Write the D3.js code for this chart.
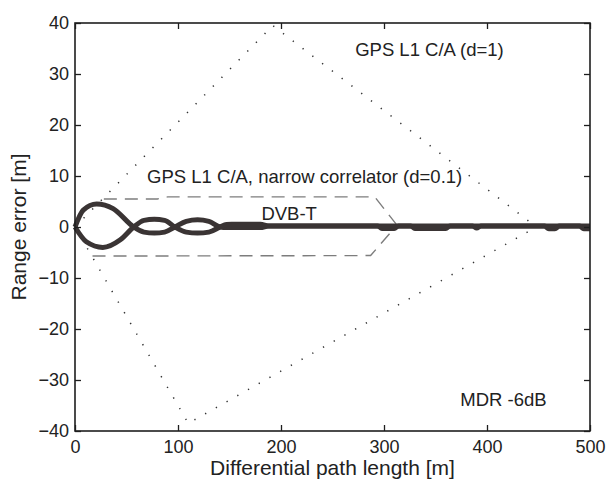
<!DOCTYPE html>
<html>
<head>
<meta charset="utf-8">
<script src="https://cdn.jsdelivr.net/npm/d3@7"></script>
<style>
  body { margin: 0; background: #fff; }
  svg { display: block; font-family: "Liberation Sans", Arial, sans-serif; }
</style>
</head>
<body>
<div id="chart"></div>
<script>
// axis ticks
const X_TICKS = [0, 100, 200, 300, 400, 500];
const Y_TICKS = [-40, -30, -20, -10, 0, 10, 20, 30, 40];

// GPS L1 C/A (d=1) envelope, dotted
const gpsUpperX = [0, 192, 448];
const gpsUpperY = [0, 39.5, 0];
const gpsLowerX = [0, 110, 448];
const gpsLowerY = [0, -38.5, 0];

// GPS L1 C/A narrow correlator (d=0.1), dashed
const ncUpperX = [28, 80, 90, 291, 314];
const ncUpperY = [5.5, 5.5, 5.9, 5.9, 0];
const ncLowerX = [17, 287, 311];
const ncLowerY = [-5.7, -5.6, 0];

// DVB-T envelope, thick solid
const dvbUpperX = [0, 8, 21, 37, 57, 67, 77, 87, 97, 108, 119, 130, 141, 147, 152, 180, 188, 500];
const dvbUpperY = [0, 3.3, 4.5, 3.6, 0, -1.0, -1.2, -1.0, 0, 1.1, 1.4, 1.1, 0, -0.1, -0.1, -0.1, 0.2, 0.2];
const dvbLowerX = [0, 11, 27, 44, 57, 67, 77, 87, 97, 108, 119, 130, 141, 147, 152, 180, 188,
                   294, 298, 310, 314, 326, 330, 360, 364, 386, 390, 394, 456, 460, 466, 470, 490, 494, 500];
const dvbLowerY = [0, -2.9, -4.0, -2.5, 0, 1.3, 1.5, 1.3, 0, -1.0, -1.2, -1.0, 0, 0.5, 0.55, 0.55, 0.2,
                   0.2, -0.3, -0.3, 0.2, 0.2, -0.3, -0.3, 0.2, 0.2, -0.2, 0.2, 0.2, -0.35, -0.35, 0.2, 0.2, -0.35, -0.35];

// annotations
const labels = [
  { text: "GPS L1 C/A (d=1)", x: 272, y: 33.5 },
  { text: "GPS L1 C/A, narrow correlator (d=0.1)", x: 70, y: 8.6 },
  { text: "DVB-T", x: 181, y: 1.4 },
  { text: "MDR -6dB", x: 374, y: -35 }
];

const MARGIN = { top: 23, right: 18, bottom: 49, left: 75 };
const WIDTH = 608 - MARGIN.left - MARGIN.right;
const HEIGHT = 480 - MARGIN.top - MARGIN.bottom;

const svg = d3.select("#chart")
  .append("svg")
  .attr("width", 608)
  .attr("height", 480)
  .append("g")
  .attr("transform", `translate(${MARGIN.left},${MARGIN.top})`);

const xScale = d3.scaleLinear().domain([0, 500]).range([0, WIDTH]);
const yScale = d3.scaleLinear().domain([-40, 40]).range([HEIGHT, 0]);

const zip = (xs, ys) => xs.map((x, i) => [x, ys[i]]);

const line = d3.line()
  .x(d => xScale(d[0]))
  .y(d => yScale(d[1]));

const smoothLine = d3.line()
  .curve(d3.curveMonotoneX)
  .x(d => xScale(d[0]))
  .y(d => yScale(d[1]));

// dotted d=1
[zip(gpsUpperX, gpsUpperY), zip(gpsLowerX, gpsLowerY)].forEach(pts => {
  svg.append("path")
    .attr("d", line(pts))
    .attr("fill", "none")
    .attr("stroke", "#333")
    .attr("stroke-width", 1.5)
    .attr("stroke-dasharray", "1.3,11");
});

// dashed d=0.1
[zip(ncUpperX, ncUpperY), zip(ncLowerX, ncLowerY)].forEach(pts => {
  svg.append("path")
    .attr("d", line(pts))
    .attr("fill", "none")
    .attr("stroke", "#7d7d7d")
    .attr("stroke-width", 1.4)
    .attr("stroke-dasharray", "13,8");
});

// DVB-T
[zip(dvbUpperX, dvbUpperY), zip(dvbLowerX, dvbLowerY)].forEach(pts => {
  svg.append("path")
    .attr("d", smoothLine(pts))
    .attr("fill", "none")
    .attr("stroke", "#3a3434")
    .attr("stroke-width", 5)
    .attr("stroke-linejoin", "round");
});

// axes, ticks pointing inward
const axisColor = "#1e1e1e";

const xAxis = svg.append("g")
  .attr("transform", `translate(0,${HEIGHT})`)
  .call(d3.axisBottom(xScale).tickValues(X_TICKS).tickSize(-6).tickPadding(9));

const yAxis = svg.append("g")
  .call(d3.axisLeft(yScale).tickValues(Y_TICKS).tickSize(-6).tickPadding(6));

const xTop = svg.append("g")
  .call(d3.axisTop(xScale).tickValues(X_TICKS).tickSize(-6).tickFormat(""));

const yRight = svg.append("g")
  .attr("transform", `translate(${WIDTH},0)`)
  .call(d3.axisRight(yScale).tickValues(Y_TICKS).tickSize(-6).tickFormat(""));

[xAxis, yAxis, xTop, yRight].forEach(g => {
  g.select(".domain").remove();
  g.selectAll("line").attr("stroke", axisColor).attr("stroke-width", 1.3);
  g.selectAll("text")
    .attr("fill", "#222")
    .style("font-size", "18px")
    .style("font-family", "'Liberation Sans', Arial, sans-serif");
});

// frame
svg.append("rect")
  .attr("x", 0)
  .attr("y", 0)
  .attr("width", WIDTH)
  .attr("height", HEIGHT)
  .attr("fill", "none")
  .attr("stroke", axisColor)
  .attr("stroke-width", 1.6);

// axis titles
svg.append("text")
  .attr("x", WIDTH / 2)
  .attr("y", HEIGHT + 44)
  .attr("text-anchor", "middle")
  .attr("fill", "#222")
  .style("font-size", "21px")
  .text("Differential path length [m]");

svg.append("text")
  .attr("transform", `translate(${-49},${HEIGHT / 2}) rotate(-90)`)
  .attr("text-anchor", "middle")
  .attr("fill", "#222")
  .style("font-size", "21px")
  .text("Range error [m]");

// curve labels
svg.selectAll(".note")
  .data(labels)
  .enter()
  .append("text")
  .attr("class", "note")
  .attr("x", d => xScale(d.x))
  .attr("y", d => yScale(d.y))
  .attr("fill", "#222")
  .style("font-size", "18.5px")
  .text(d => d.text);
</script>
</body>
</html>
